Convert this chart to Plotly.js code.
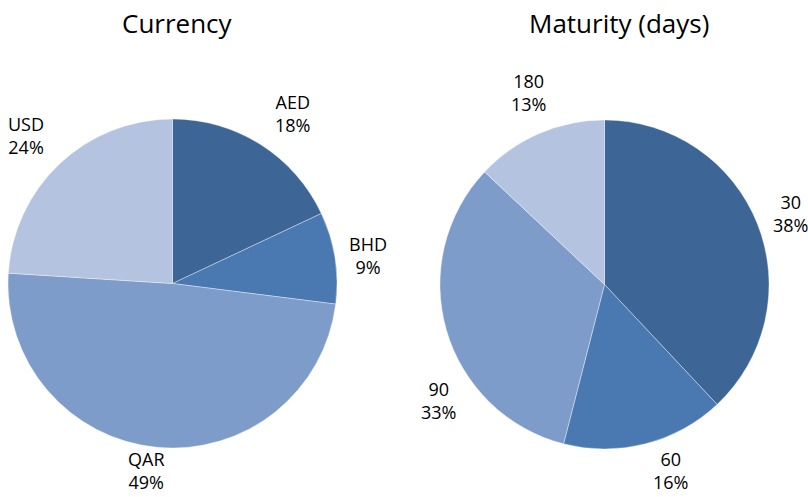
<!DOCTYPE html>
<html>
<head>
<meta charset="utf-8">
<script src="https://cdn.plot.ly/plotly-3.0.1.min.js"></script>
<style>html,body{margin:0;padding:0;background:#fff;}#chart{width:808px;height:497px;}</style>
</head>
<body>
<div id="chart"></div>
<script>
// Data
var currencyLabels = ['AED', 'BHD', 'QAR', 'USD'];
var currencyValues = [18, 9, 49, 24];
var maturityLabels = ['30', '60', '90', '180'];
var maturityValues = [38, 16, 33, 13];
var titles = ['Currency', 'Maturity (days)'];

var colors = ['#3D6595', '#4A78B0', '#7E9CCA', '#B4C3DF'];

var W = 808, H = 497;
function px(x) { return x / W; }
function py(y) { return 1 - y / H; }

// label positions (pixel centers)
var currencyLabelPos = [[292, 114], [368, 255], [146, 470], [26, 135]];
var maturityLabelPos = [[790, 214], [670, 470], [438, 400], [528, 92]];

function pct(values) {
  var t = values.reduce(function (a, b) { return a + b; }, 0);
  return values.map(function (v) { return Math.round(v / t * 100) + '%'; });
}

var font = 'Open Sans, Noto Sans, DejaVu Sans, sans-serif';

var traces = [
  {
    type: 'pie', labels: currencyLabels, values: currencyValues,
    sort: false, direction: 'clockwise', rotation: 0,
    marker: { colors: colors, line: { color: 'rgba(255,255,255,0.6)', width: 0.6 } },
    textinfo: 'none', hoverinfo: 'label+percent', showlegend: false,
    domain: { x: [px(8), px(337)], y: [py(448), py(119)] }
  },
  {
    type: 'pie', labels: maturityLabels, values: maturityValues,
    sort: false, direction: 'clockwise', rotation: 0,
    marker: { colors: colors, line: { color: 'rgba(255,255,255,0.6)', width: 0.6 } },
    textinfo: 'none', hoverinfo: 'label+percent', showlegend: false,
    domain: { x: [px(440), px(769)], y: [py(449), py(120)] }
  }
];

var annotations = [];
function addLabels(labels, values, pos) {
  var p = pct(values);
  labels.forEach(function (l, i) {
    annotations.push({
      xref: 'paper', yref: 'paper', x: px(pos[i][0]), y: py(pos[i][1]),
      xanchor: 'center', yanchor: 'middle', showarrow: false,
      text: l + '<br>' + p[i],
      font: { family: font, size: 18, color: '#000000' }
    });
  });
}
addLabels(currencyLabels, currencyValues, currencyLabelPos);
addLabels(maturityLabels, maturityValues, maturityLabelPos);

var titlePos = [[177, 23], [619, 23]];
titles.forEach(function (t, i) {
  annotations.push({
    xref: 'paper', yref: 'paper', x: px(titlePos[i][0]), y: py(titlePos[i][1]),
    xanchor: 'center', yanchor: 'middle', showarrow: false,
    text: t, font: { family: font, size: 26, color: '#000000' }
  });
});

var layout = {
  width: W, height: H,
  margin: { l: 0, r: 0, t: 0, b: 0 },
  paper_bgcolor: '#ffffff', plot_bgcolor: '#ffffff',
  showlegend: false,
  annotations: annotations
};

Plotly.newPlot('chart', traces, layout, { displayModeBar: false, staticPlot: true });
</script>
</body>
</html>
